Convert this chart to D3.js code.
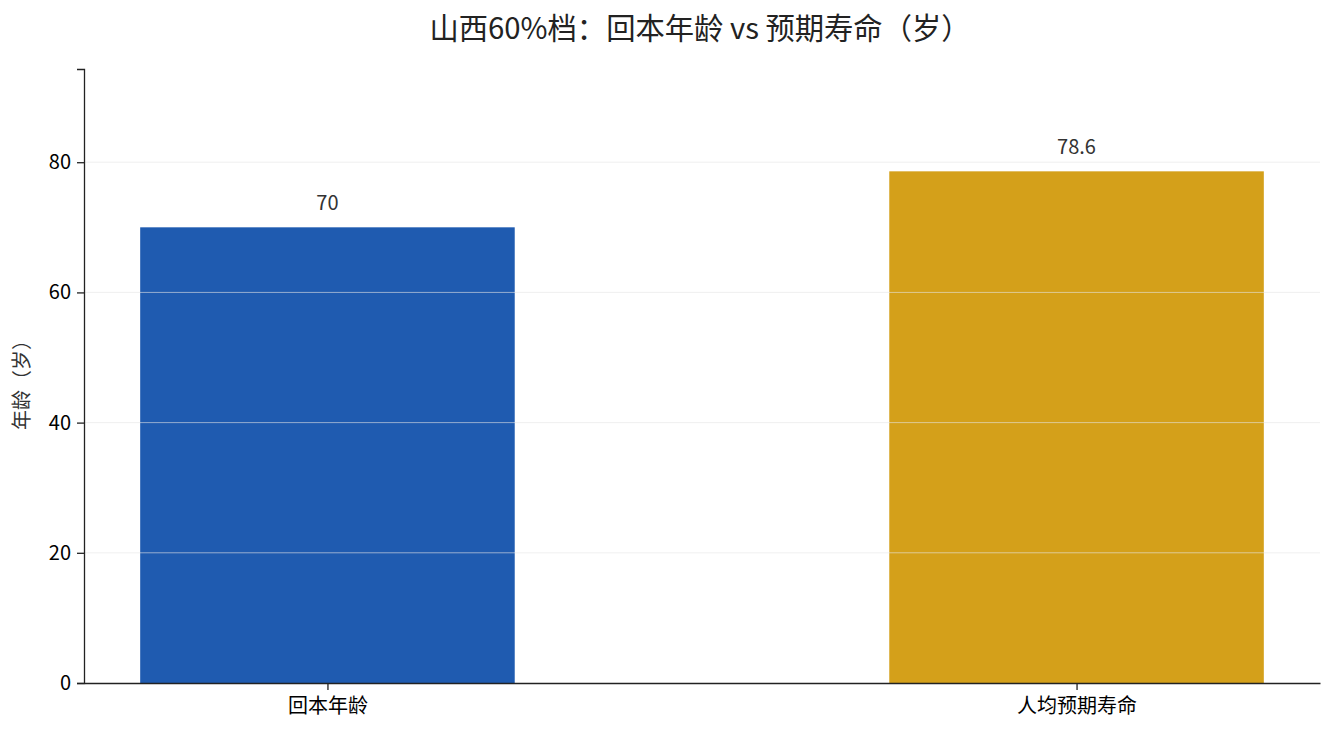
<!DOCTYPE html>
<html>
<head>
<meta charset="utf-8">
<script src="https://cdn.jsdelivr.net/npm/d3@7"></script>
<style>
  body { margin: 0; background: #fff; }
  text { font-family: "Noto Sans CJK SC", "Noto Sans", sans-serif; }
</style>
</head>
<body>
<script>
// chart data
const categories = ["回本年龄", "人均预期寿命"];
const values = [70, 78.6];
const labels = ["70", "78.6"];
const barColors = ["#1f5bb0", "#d4a01a"];
const yTicks = [0, 20, 40, 60, 80];

const width = 1335, height = 735;
const margin = {top: 69, right: 15, bottom: 52, left: 84};
const innerW = width - margin.left - margin.right,
      innerH = height - margin.top - margin.bottom;

const svg = d3.select("body").append("svg")
  .attr("width", width)
  .attr("height", height);

// bar centres at 0 and 1, width 0.5, 5% padding either side
const x = d3.scaleLinear()
  .domain([-0.325, 1.325])
  .range([0, innerW]);

const y = d3.scaleLinear()
  .domain([0, d3.max(values) * 1.2])
  .range([innerH, 0]);

const g = svg.append("g")
  .attr("transform", `translate(${margin.left},${margin.top})`);

g.selectAll(".bar")
  .data(values)
  .enter()
  .append("rect")
  .attr("class", "bar")
  .attr("x", (d, i) => x(i - 0.25))
  .attr("width", (d, i) => x(i + 0.25) - x(i - 0.25))
  .attr("y", d => y(d))
  .attr("height", d => y(0) - y(d))
  .attr("fill", (d, i) => barColors[i]);

// grid drawn over the bars
g.selectAll(".grid")
  .data(yTicks.filter(t => t > 0))
  .enter()
  .append("line")
  .attr("class", "grid")
  .attr("x1", 0)
  .attr("x2", innerW)
  .attr("y1", d => y(d))
  .attr("y2", d => y(d))
  .attr("stroke", "rgb(230,230,230)")
  .attr("stroke-opacity", 0.6)
  .attr("stroke-width", 1);

// value labels
g.selectAll(".val")
  .data(values)
  .enter()
  .append("text")
  .attr("x", (d, i) => x(i))
  .attr("y", d => y(d) - 17)
  .attr("text-anchor", "middle")
  .attr("font-size", 20)
  .attr("fill", "#333")
  .text((d, i) => labels[i]);

// y axis
const yAxis = g.append("g")
  .call(d3.axisLeft(y).tickValues(yTicks).tickSize(7).tickPadding(6));
yAxis.selectAll("text").attr("font-size", 20).attr("fill", "#000");
yAxis.select(".domain").attr("stroke", "#222").attr("stroke-width", 1.3);
yAxis.selectAll(".tick line").attr("stroke", "#222").attr("stroke-width", 1.3);

// x axis
const xAxis = g.append("g")
  .attr("transform", `translate(0,${innerH})`)
  .call(d3.axisBottom(x).tickValues([0, 1]).tickFormat(d => categories[d])
    .tickSize(7).tickPadding(9).tickSizeOuter(0));
xAxis.selectAll("text").attr("font-size", 20).attr("fill", "#000");
xAxis.select(".domain").attr("stroke", "#222").attr("stroke-width", 1.3);
xAxis.selectAll(".tick line").attr("stroke", "#222").attr("stroke-width", 1.3);

// y label
svg.append("text")
  .attr("transform", `translate(29,${margin.top + innerH / 2 + 4}) rotate(-90)`)
  .attr("text-anchor", "middle")
  .attr("font-size", 20)
  .attr("fill", "#333")
  .text("年龄（岁）");

// title
svg.append("text")
  .attr("x", margin.left + innerW / 2 - 2)
  .attr("y", 39)
  .attr("text-anchor", "middle")
  .attr("font-size", 29.3)
  .attr("fill", "#222")
  .text("山西60%档：回本年龄 vs 预期寿命（岁）");
</script>
</body>
</html>
